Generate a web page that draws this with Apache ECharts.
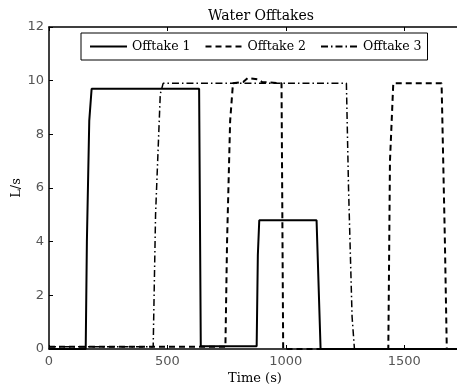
<!DOCTYPE html>
<html>
<head>
<meta charset="utf-8">
<script src="https://cdn.jsdelivr.net/npm/echarts@6/dist/echarts.min.js"></script>
<style>
  html, body { margin: 0; padding: 0; background: #fff; }
  #chart { width: 457px; height: 390px; }
</style>
</head>
<body>
<div id="chart"></div>
<script>
// time (s) and flow (L/s) for each offtake
const t1 = [0, 155, 160, 170, 180, 634, 641, 877, 882, 888, 1130, 1147, 1740]
const v1 = [0, 0, 4, 8.5, 9.7, 9.7, 0.1, 0.1, 3.5, 4.8, 4.8, 0, 0]

const t2 = [0, 745, 752, 765, 777, 820, 840, 880, 900, 982, 989, 1433, 1440, 1454, 1658, 1672, 1680, 1740]
const v2 = [0.08, 0.08, 4, 8.5, 9.9, 9.95, 10.1, 10.05, 9.95, 9.9, 0, 0, 7, 9.9, 9.9, 4, 0, 0]

const t3 = [0, 440, 450, 470, 482, 1256, 1265, 1280, 1290, 1740]
const v3 = [0.08, 0.08, 5, 9.5, 9.9, 9.9, 6, 1.2, 0, 0]

const names = ['Offtake 1', 'Offtake 2', 'Offtake 3']
const xTicks = [0, 500, 1000, 1500]

function pairs(t, v) {
  let out = []
  t.forEach((x, i) => {
    out.push([x, v[i]])
  })
  return out
}

const serif = 'DejaVu Serif'
const chart = echarts.init(document.getElementById('chart'))

function tickStyle() {
  return {
    show: true,
    inside: true,
    length: 4,
    lineStyle: { color: '#000', width: 1 }
  }
}
function lineAxis() {
  return { show: true, onZero: false, lineStyle: { color: '#000', width: 1.5 } }
}

const options = {
  animation: false,
  backgroundColor: '#fff',
  title: {
    text: 'Water Offtakes',
    left: 256,
    top: 4,
    textAlign: 'center',
    textStyle: { fontFamily: serif, fontWeight: 'normal', fontSize: 14, color: '#000' }
  },
  legend: {
    data: names,
    left: 81,
    top: 33,
    orient: 'horizontal',
    borderColor: '#000',
    borderWidth: 1,
    padding: [7, 6, 7, 8],
    itemWidth: 37,
    itemHeight: 12,
    itemGap: 14,
    backgroundColor: '#fff',
    itemStyle: { color: 'transparent', borderWidth: 0 },
    textStyle: { fontFamily: serif, fontSize: 12.5, color: '#000' }
  },
  grid: {
    left: 49,
    top: 27,
    width: 412,
    height: 322,
    outerBoundsMode: 'none',
    containLabel: false
  },
  xAxis: [
    {
      type: 'value',
      min: 0,
      max: 1740,
      interval: 500,
      name: 'Time (s)',
      nameLocation: 'middle',
      nameGap: 23,
      nameMoveOverlap: false,
      nameTextStyle: { fontFamily: serif, fontSize: 13, color: '#000' },
      axisLine: lineAxis(),
      axisTick: tickStyle(),
      splitLine: { show: false },
      axisLabel: {
        margin: 6,
        fontFamily: 'DejaVu Sans',
        fontSize: 13,
        color: '#555',
        formatter: val => (xTicks.indexOf(val) >= 0 ? String(val) : '')
      }
    },
    {
      type: 'value',
      position: 'top',
      min: 0,
      max: 1740,
      interval: 500,
      axisLine: lineAxis(),
      axisTick: tickStyle(),
      axisLabel: { show: false },
      splitLine: { show: false }
    }
  ],
  yAxis: [
    {
      type: 'value',
      min: 0,
      max: 12,
      interval: 2,
      name: 'L/s',
      nameLocation: 'middle',
      nameGap: 26,
      nameMoveOverlap: false,
      nameTextStyle: { fontFamily: serif, fontSize: 13, color: '#000' },
      axisLine: lineAxis(),
      axisTick: tickStyle(),
      splitLine: { show: false },
      axisLabel: { margin: 5, fontFamily: 'DejaVu Sans', fontSize: 13, color: '#555' }
    },
    {
      type: 'value',
      position: 'right',
      min: 0,
      max: 12,
      interval: 2,
      axisLine: lineAxis(),
      axisTick: tickStyle(),
      axisLabel: { show: false },
      splitLine: { show: false }
    }
  ],
  series: [
    {
      name: names[0],
      type: 'line',
      data: pairs(t1, v1),
      showSymbol: false,
      symbol: 'none',
      itemStyle: { color: '#000' },
      lineStyle: { color: '#000', width: 2 }
    },
    {
      name: names[1],
      type: 'line',
      data: pairs(t2, v2),
      showSymbol: false,
      symbol: 'none',
      itemStyle: { color: '#000' },
      lineStyle: { color: '#000', width: 2, type: [6, 4] }
    },
    {
      name: names[2],
      type: 'line',
      data: pairs(t3, v3),
      showSymbol: false,
      symbol: 'none',
      itemStyle: { color: '#000' },
      lineStyle: { color: '#000', width: 1.5, type: [7, 3, 1.5, 3] }
    }
  ]
}
chart.setOption(options)
</script>
</body>
</html>
